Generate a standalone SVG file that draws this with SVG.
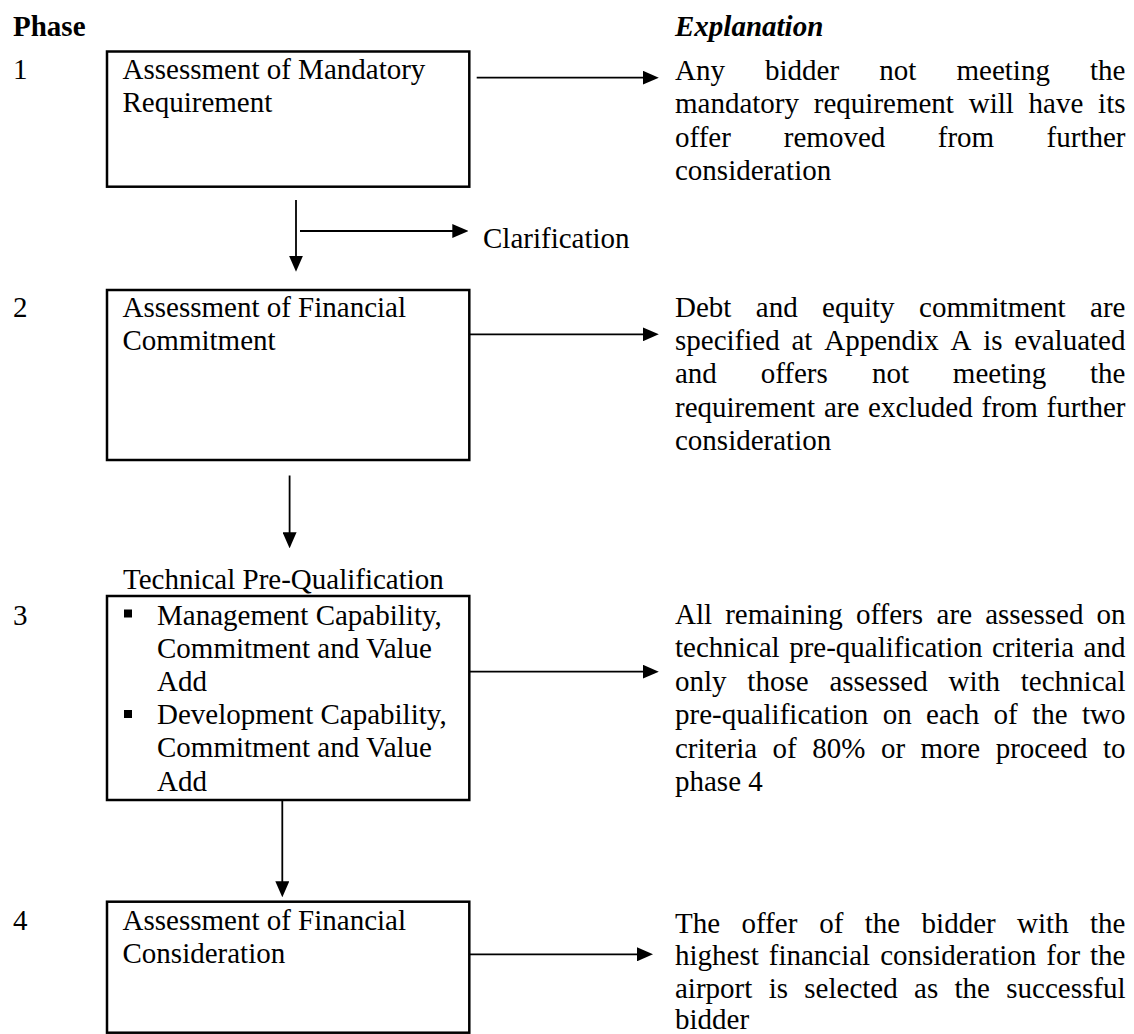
<svg xmlns="http://www.w3.org/2000/svg" width="1134" height="1034" viewBox="0 0 1134 1034">
<defs>
<style>
text{font-family:"Liberation Serif","Times New Roman",serif;font-size:29px;fill:#000}
.hd{font-weight:bold}
.hdi{font-weight:bold;font-style:italic}
.box{fill:none;stroke:#000;stroke-width:2.5}
.con{fill:none;stroke:#000;stroke-width:1.8}
.bul{fill:#000}
</style>
<marker id="ah" markerUnits="userSpaceOnUse" markerWidth="16" markerHeight="14" viewBox="0 0 16 14" refX="8" refY="7" orient="auto">
<path d="M0,0 L16,7 L0,14 z" fill="#000"/>
</marker>
</defs>
<rect width="1134" height="1034" fill="#fff"/>

<g id="headers">
<text class="hd" x="13" y="36">Phase</text>
<text class="hdi" x="675" y="35.5">Explanation</text>
</g>

<g id="phase-numbers">
<text x="13" y="78.5">1</text>
<text x="13" y="316.7">2</text>
<text x="13" y="625">3</text>
<text x="13" y="930">4</text>
</g>

<g id="node-phase1">
<rect class="box" x="107" y="51.5" width="362.3" height="135.2"/>
<text x="122.5" y="79">Assessment of Mandatory</text>
<text x="122.5" y="112">Requirement</text>
</g>

<g id="node-clarification">
<text x="483" y="248.3">Clarification</text>
</g>

<g id="node-phase2">
<rect class="box" x="107" y="290" width="362.3" height="170"/>
<text x="122.5" y="316.7">Assessment of Financial</text>
<text x="122.5" y="350">Commitment</text>
</g>

<g id="node-phase3">
<text x="123" y="589">Technical Pre-Qualification</text>
<rect class="box" x="107" y="596" width="362.3" height="204"/>
<rect class="bul" x="124" y="609.5" width="8" height="8"/>
<text x="157" y="624.5">Management Capability,</text>
<text x="157" y="657.7">Commitment and Value</text>
<text x="157" y="690.9">Add</text>
<rect class="bul" x="124" y="710" width="8" height="8"/>
<text x="157" y="724.1">Development Capability,</text>
<text x="157" y="757.3">Commitment and Value</text>
<text x="157" y="790.5">Add</text>
</g>

<g id="node-phase4">
<rect class="box" x="107" y="901.7" width="362.3" height="131"/>
<text x="122.5" y="930">Assessment of Financial</text>
<text x="122.5" y="963.3">Consideration</text>
</g>

<g id="explanation-1">
<text y="80"><tspan x="675">Any</tspan><tspan x="765.07">bidder</tspan><tspan x="879.3">not</tspan><tspan x="956.49">meeting</tspan><tspan x="1090.06">the</tspan></text>
<text y="113.3"><tspan x="675">mandatory</tspan><tspan x="813.8">requirement</tspan><tspan x="968.7">will</tspan><tspan x="1028.59">have</tspan><tspan x="1098.09">its</tspan></text>
<text y="146.6"><tspan x="675">offer</tspan><tspan x="783.81">removed</tspan><tspan x="937.74">from</tspan><tspan x="1046.59">further</tspan></text>
<text x="675" y="180">consideration</text>
</g>

<g id="explanation-2">
<text y="316.7"><tspan x="675">Debt</tspan><tspan x="755.81">and</tspan><tspan x="822.12">equity</tspan><tspan x="919.05">commitment</tspan><tspan x="1090.09">are</tspan></text>
<text y="350"><tspan x="675">specified</tspan><tspan x="791.51">at</tspan><tspan x="824.27">Appendix</tspan><tspan x="950.47">A</tspan><tspan x="983.23">is</tspan><tspan x="1014.37">evaluated</tspan></text>
<text y="383.3"><tspan x="675">and</tspan><tspan x="760.64">offers</tspan><tspan x="872.03">not</tspan><tspan x="952.85">meeting</tspan><tspan x="1090.06">the</tspan></text>
<text y="416.6"><tspan x="675">requirement</tspan><tspan x="823.88">are</tspan><tspan x="868.04">excluded</tspan><tspan x="981.48">from</tspan><tspan x="1046.59">further</tspan></text>
<text x="675" y="450">consideration</text>
</g>

<g id="explanation-3">
<text y="623.5"><tspan x="675">All</tspan><tspan x="725.17">remaining</tspan><tspan x="855.88">offers</tspan><tspan x="936.62">are</tspan><tspan x="985.14">assessed</tspan><tspan x="1096.5">on</tspan></text>
<text y="657"><tspan x="675">technical</tspan><tspan x="789.19">pre-qualification</tspan><tspan x="991.98">criteria</tspan><tspan x="1083.62">and</tspan></text>
<text y="690.5"><tspan x="675">only</tspan><tspan x="747.37">those</tspan><tspan x="829.4">assessed</tspan><tspan x="948.46">with</tspan><tspan x="1020.81">technical</tspan></text>
<text y="724"><tspan x="675">pre-qualification</tspan><tspan x="882.69">on</tspan><tspan x="926.09">each</tspan><tspan x="993.62">of</tspan><tspan x="1032.18">the</tspan><tspan x="1082">two</tspan></text>
<text y="757.5"><tspan x="675">criteria</tspan><tspan x="772.62">of</tspan><tspan x="812.27">80%</tspan><tspan x="880.92">or</tspan><tspan x="920.57">more</tspan><tspan x="995.66">proceed</tspan><tspan x="1102.94">to</tspan></text>
<text x="675" y="791">phase 4</text>
</g>

<g id="explanation-4">
<text y="932.5"><tspan x="675">The</tspan><tspan x="741.49">offer</tspan><tspan x="819.23">of</tspan><tspan x="864.78">the</tspan><tspan x="921.61">bidder</tspan><tspan x="1017.1">with</tspan><tspan x="1090.06">the</tspan></text>
<text y="965"><tspan x="675">highest</tspan><tspan x="768.72">financial</tspan><tspan x="880.13">consideration</tspan><tspan x="1046.32">for</tspan><tspan x="1090.06">the</tspan></text>
<text y="997.5"><tspan x="675">airport</tspan><tspan x="768.64">is</tspan><tspan x="804.31">selected</tspan><tspan x="914.05">as</tspan><tspan x="954.54">the</tspan><tspan x="1006.31">successful</tspan></text>
<text x="675" y="1029">bidder</text>
</g>

<g id="connectors">
<path class="con" d="M476.7,77.7 H650.8" marker-end="url(#ah)"/>
<path class="con" d="M296,200 V263.7" marker-end="url(#ah)"/>
<path class="con" d="M300,231 H460.3" marker-end="url(#ah)"/>
<path class="con" d="M469.3,334.3 H650.8" marker-end="url(#ah)"/>
<path class="con" d="M289.6,475.5 V540.3" marker-end="url(#ah)"/>
<path class="con" d="M469.3,671.7 H650.8" marker-end="url(#ah)"/>
<path class="con" d="M282.3,800 V889.3" marker-end="url(#ah)"/>
<path class="con" d="M469.3,954.3 H645" marker-end="url(#ah)"/>
</g>
</svg>
